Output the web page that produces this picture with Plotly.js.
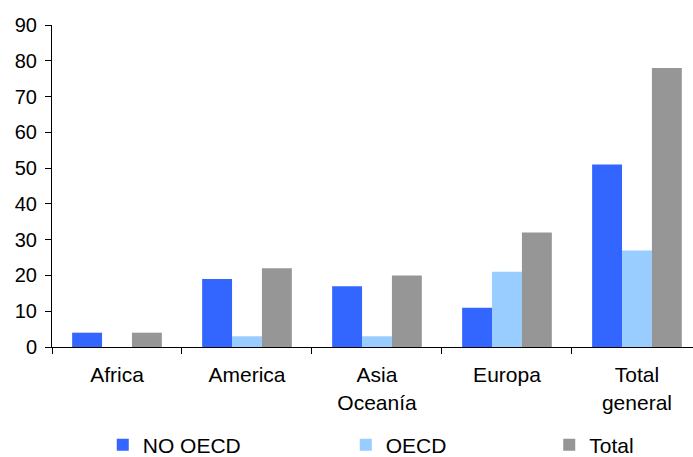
<!DOCTYPE html>
<html>
<head>
<meta charset="utf-8">
<script src="https://cdn.plot.ly/plotly-3.0.1.min.js"></script>
<style>html,body{margin:0;padding:0;background:#fff;}#chart{width:693px;height:457px;}</style>
</head>
<body>
<div id="chart"></div>
<script>
var categories = ["Africa", "America", "Asia<br>Oceanía", "Europa", "Total<br>general"];
var seriesNames = ["NO OECD", "OECD", "Total"];
var noOecd = [4, 19, 17, 11, 51];
var oecd = [0, 3, 3, 21, 27];
var total = [4, 22, 20, 32, 78];
var yTicks = [0, 10, 20, 30, 40, 50, 60, 70, 80, 90];

var colors = ["#3366FF", "#99CCFF", "#969696"];
var values = [noOecd, oecd, total];
var legendIds = ["legend", "legend2", "legend3"];

var traces = values.map(function (v, i) {
  return {
    type: "bar",
    name: seriesNames[i],
    x: categories,
    y: v,
    marker: {color: colors[i], line: {width: 0}},
    legend: legendIds[i],
    hoverinfo: "x+y+name"
  };
});

var fam = "Liberation Sans, Arial, sans-serif";
var yFont = {family: fam, size: 20, color: "#000"};
var xFont = {family: fam, size: 21, color: "#000"};
function legendAt(x) {
  return {
    orientation: "h",
    x: x, xanchor: "left",
    y: 0.026, yref: "container", yanchor: "middle",
    font: {family: fam, size: 21, color: "#000"},
    bgcolor: "rgba(0,0,0,0)",
    borderwidth: 0,
    itemwidth: 30
  };
}

var layout = {
  width: 693, height: 457,
  margin: {l: 52, r: 0, t: 25, b: 110},
  paper_bgcolor: "#fff",
  plot_bgcolor: "#fff",
  font: yFont,
  barmode: "group",
  bargap: 0.31,
  bargroupgap: 0,
  showlegend: true,
  legend: legendAt(0.0792),
  legend2: legendAt(0.4583),
  legend3: legendAt(0.7757),
  xaxis: {
    type: "category",
    range: [-0.5, 4.431],
    showline: true, linecolor: "#000", linewidth: 1,
    ticks: "outside", tickson: "boundaries", ticklen: 6, tickcolor: "#000", tickwidth: 1,
    showgrid: false, zeroline: false,
    ticklabelstandoff: 9,
    tickfont: xFont,
    fixedrange: true
  },
  yaxis: {
    range: [0, 90],
    tickvals: yTicks,
    ticktext: yTicks.map(String),
    showline: true, linecolor: "#000", linewidth: 1,
    ticks: "outside", ticklen: 6, tickcolor: "#000", tickwidth: 1,
    showgrid: false, zeroline: false,
    ticklabelstandoff: 4,
    tickfont: yFont,
    fixedrange: true
  }
};

Plotly.newPlot("chart", traces, layout, {displayModeBar: false, staticPlot: true});
</script>
</body>
</html>
